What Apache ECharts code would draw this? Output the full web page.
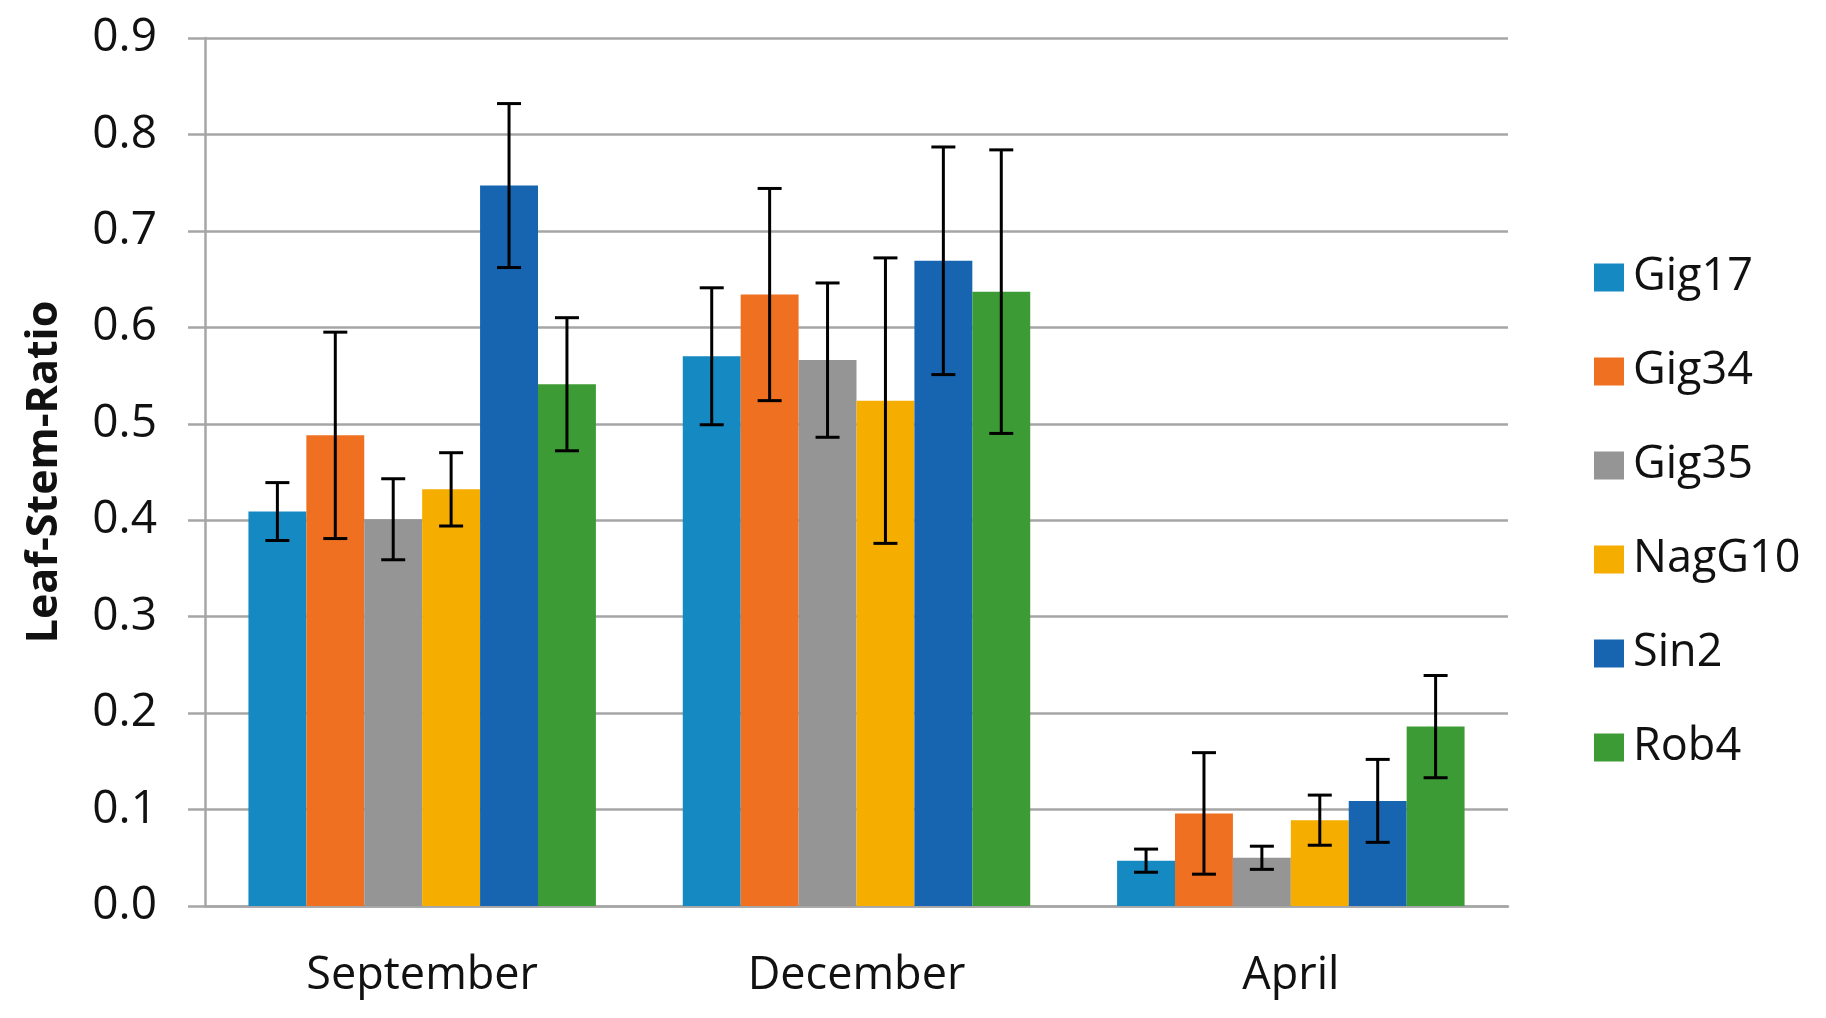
<!DOCTYPE html>
<html>
<head>
<meta charset="utf-8">
<script src="https://cdn.jsdelivr.net/npm/echarts@6/dist/echarts.min.js"></script>
<style>
html,body{margin:0;padding:0;background:#fff;}
#chart{width:1826px;height:1018px;}
</style>
</head>
<body>
<div id="chart"></div>
<script>
var categories = ['September', 'December', 'April'];
var seriesNames = ['Gig17', 'Gig34', 'Gig35', 'NagG10', 'Sin2', 'Rob4'];
var colors = ['#1589c2', '#ee7020', '#959595', '#f5ad00', '#1764b0', '#3c9b35'];

var gig17 = [0.409, 0.570, 0.047];
var gig34 = [0.488, 0.634, 0.096];
var gig35 = [0.401, 0.566, 0.050];
var nagG10 = [0.432, 0.524, 0.089];
var sin2 = [0.747, 0.669, 0.109];
var rob4 = [0.541, 0.637, 0.186];

var gig17Err = [0.030, 0.071, 0.012];
var gig34Err = [0.107, 0.110, 0.063];
var gig35Err = [0.042, 0.080, 0.012];
var nagG10Err = [0.038, 0.148, 0.026];
var sin2Err = [0.085, 0.118, 0.043];
var rob4Err = [0.069, 0.147, 0.053];

var yTicks = [0, 0.1, 0.2, 0.3, 0.4, 0.5, 0.6, 0.7, 0.8, 0.9];

var values = [gig17, gig34, gig35, nagG10, sin2, rob4];
var errors = [gig17Err, gig34Err, gig35Err, nagG10Err, sin2Err, rob4Err];

var FONT = 'Open Sans';
var nSeries = seriesNames.length;
var catGapRatio = 0.2;

var series = [];
seriesNames.forEach(function (name, i) {
  series.push({
    name: name,
    type: 'bar',
    data: values[i],
    barGap: '0%',
    barCategoryGap: '20%',
    itemStyle: { color: colors[i] },
    z: 2
  });
});
seriesNames.forEach(function (name, i) {
  var data = values[i].map(function (v, j) {
    return [j, v - errors[i][j], v + errors[i][j]];
  });
  series.push({
    name: name,
    type: 'custom',
    data: data,
    z: 5,
    silent: true,
    renderItem: function (params, api) {
      var cat = api.value(0);
      var lowPt = api.coord([cat, api.value(1)]);
      var highPt = api.coord([cat, api.value(2)]);
      var band = api.size([1, 0])[0];
      var barW = band * (1 - catGapRatio) / nSeries;
      var x = lowPt[0] + (i - (nSeries - 1) / 2) * barW;
      var half = 12;
      var style = { stroke: '#000', lineWidth: 3, fill: null };
      return {
        type: 'group',
        children: [
          { type: 'line', shape: { x1: x, y1: highPt[1], x2: x, y2: lowPt[1] }, style: style },
          { type: 'line', shape: { x1: x - half, y1: highPt[1], x2: x + half, y2: highPt[1] }, style: style },
          { type: 'line', shape: { x1: x - half, y1: lowPt[1], x2: x + half, y2: lowPt[1] }, style: style }
        ]
      };
    },
    encode: { x: 0, y: [1, 2] },
    tooltip: { show: false }
  });
});

var chart = echarts.init(document.getElementById('chart'), null, { renderer: 'canvas' });
chart.setOption({
  animation: false,
  backgroundColor: '#ffffff',
  grid: { left: 205, right: 318, top: 38, bottom: 112, containLabel: false },
  legend: {
    orient: 'vertical',
    left: 1589,
    top: 250,
    itemWidth: 30,
    itemHeight: 28,
    itemGap: 49,
    icon: 'rect',
    data: seriesNames,
    textStyle: { fontFamily: FONT, fontSize: 45, color: '#111', lineHeight: 44, padding: [0, 0, 0, 4] }
  },
  xAxis: {
    type: 'category',
    data: categories,
    axisLine: { show: true, lineStyle: { color: '#a6a6a6', width: 2.5 } },
    axisTick: { show: false },
    axisLabel: { fontFamily: FONT, fontSize: 45, color: '#111', margin: 48 },
    splitLine: { show: false }
  },
  yAxis: {
    type: 'value',
    min: 0,
    max: 0.9,
    interval: 0.1,
    name: 'Leaf-Stem-Ratio',
    nameLocation: 'middle',
    nameGap: 139,
    nameTextStyle: { fontFamily: FONT, fontSize: 43, fontWeight: 'bold', color: '#111' },
    axisLine: { show: true, lineStyle: { color: '#a6a6a6', width: 2.5 } },
    axisTick: { show: true, inside: false, length: 17, lineStyle: { color: '#a6a6a6', width: 2.5 } },
    axisLabel: {
      fontFamily: FONT, fontSize: 46, color: '#111', margin: 48,
      formatter: function (v) {
        var t = yTicks.filter(function (k) { return Math.abs(k - v) < 1e-9; });
        return (t.length ? t[0] : v).toFixed(1);
      }
    },
    splitLine: { show: true, lineStyle: { color: '#a6a6a6', width: 2.5 } }
  },
  series: series
});
</script>
</body>
</html>
